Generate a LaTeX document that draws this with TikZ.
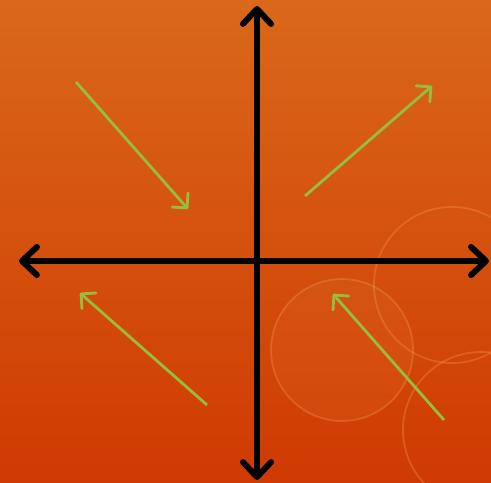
\documentclass[tikz,border=0pt]{standalone}
\usepackage{tikz}
\usetikzlibrary{arrows.meta}
\definecolor{bgtop}{RGB}{218,104,26}
\definecolor{bgbottom}{RGB}{207,58,2}
\definecolor{leaf}{RGB}{150,190,58}
\definecolor{halo}{RGB}{240,150,80}
\begin{document}
\begin{tikzpicture}[x=0.02cm, y=-0.02cm,
    axis/.style={line width=3.4pt, line cap=round, -{Straight Barb[length=8.5pt,width=16pt,round]}},
    flow/.style={leaf, line width=1.6pt, -{Straight Barb[length=6pt,width=12pt,round]}},
    bubble/.style={halo, line width=1pt, opacity=0.35}]
  \useasboundingbox (0,0) rectangle (491,483);
  % Background
  \shade[top color=bgtop, bottom color=bgbottom] (0,0) rectangle (491,483);
  \fill[halo, opacity=0.1] (342,350) circle (71);
  % Bubbles
  \draw[bubble] (452,285) circle (78);
  \draw[bubble] (342,350) circle (71);
  \draw[bubble] (481,430) circle (78);
  % Axes
  \coordinate (center) at (257,261);
  \coordinate (top) at (257,6);
  \coordinate (bottom) at (257,480);
  \coordinate (left) at (19,261);
  \coordinate (right) at (489,261);
  \draw[axis] (center) -- (top);
  \draw[axis] (center) -- (bottom);
  \draw[axis] (center) -- (left);
  \draw[axis] (center) -- (right);
  % Green arrows
  \coordinate (nwstart) at (76,82);
  \coordinate (nwend) at (188,209);
  \coordinate (nestart) at (305,196);
  \coordinate (neend) at (432,86);
  \coordinate (swstart) at (207,405);
  \coordinate (swend) at (80,293);
  \coordinate (sestart) at (444,420);
  \coordinate (seend) at (333,294);
  \draw[flow] (nwstart) -- (nwend);
  \draw[flow] (nestart) -- (neend);
  \draw[flow] (swstart) -- (swend);
  \draw[flow] (sestart) -- (seend);
\end{tikzpicture}
\end{document}
